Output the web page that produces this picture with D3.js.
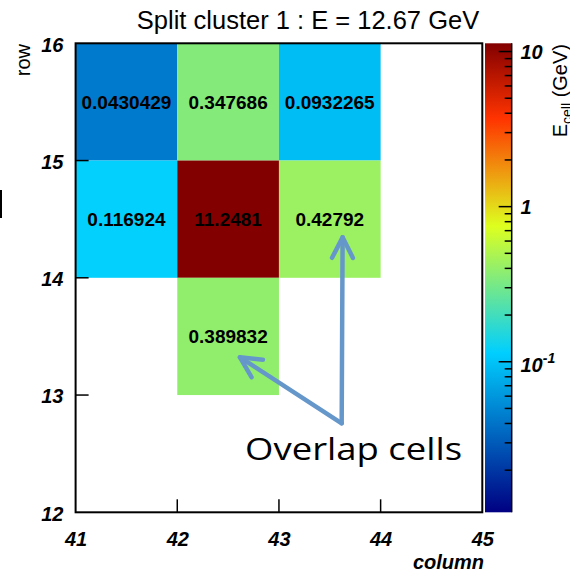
<!DOCTYPE html>
<html><head><meta charset="utf-8">
<script src="https://cdn.jsdelivr.net/npm/d3@7"></script>
<style>body{margin:0;background:#fff;} svg{display:block;}</style>
</head><body>
<svg id="c" width="570" height="572"></svg>
<script>
// ---- data ----
const cellCol = [41, 42, 43, 41, 42, 43, 42];
const cellRow = [15, 15, 15, 14, 14, 14, 13];
const cellE   = [0.0430429, 0.347686, 0.0932265, 0.116924, 11.2481, 0.42792, 0.389832];
const cellLabel = ["0.0430429","0.347686","0.0932265","0.116924","11.2481","0.42792","0.389832"];
const xTicks = [41, 42, 43, 44, 45];
const yTicks = [12, 13, 14, 15, 16];
const zMajor = [0.1, 1, 10];
const zMajorLabel = [["10","-1"],["1",""],["10",""]];
const zRange = [0.0107, 11.3];
const palStops = [0.00, 0.34, 0.61, 0.84, 1.00];
const palR = [0.00, 0.00, 0.87, 1.00, 0.51];
const palG = [0.00, 0.81, 1.00, 0.20, 0.00];
const palB = [0.51, 1.00, 0.12, 0.00, 0.00];
const titleText = "Split cluster 1 : E = 12.67 GeV";
// annotation (data coords)
const arrowBase = [43.617, 12.759];
const arrowTips = [[43.626, 14.345], [42.617, 13.322]];
const noteText = "Overlap cells";
const notePos = [42.667, 12.446];

// ---- layout ----
const svg = d3.select("#c");
const L = 75.6, R = 482.3, T = 43.3, B = 512.3;
const x = d3.scaleLinear().domain([41, 45]).range([L, R]);
const y = d3.scaleLinear().domain([12, 16]).range([B, T]);
const z = d3.scaleLog().domain(zRange).range([B, T]);
const tOf = v => (Math.log10(v) - Math.log10(zRange[0])) / (Math.log10(zRange[1]) - Math.log10(zRange[0]));
const toHex = (r,g,b) => d3.rgb(Math.round(r*255), Math.round(g*255), Math.round(b*255)).formatHex();
const palColors = palStops.map((s,i) => toHex(palR[i], palG[i], palB[i]));
const color = d3.scaleLinear().domain(palStops).range(palColors).interpolate(d3.interpolateRgb).clamp(true);

const cells = cellE.map((v,i) => ({c: cellCol[i], r: cellRow[i], v, lab: cellLabel[i]}));

// cells
svg.append("g").selectAll("rect").data(cells).join("rect")
  .attr("x", d => x(d.c)).attr("y", d => y(d.r + 1))
  .attr("width", d => x(d.c + 1) - x(d.c)).attr("height", d => y(d.r) - y(d.r + 1))
  .attr("fill", d => color(tOf(d.v)));
svg.append("g").selectAll("text").data(cells).join("text")
  .attr("x", d => x(d.c + 0.5)).attr("y", d => y(d.r + 0.5) + 7)
  .attr("text-anchor", "middle")
  .attr("font-family", "Liberation Sans, Arial, sans-serif")
  .attr("font-weight", "bold").attr("font-size", 19).attr("fill", "#000")
  .text(d => d.lab);

// frame
svg.append("rect").attr("x", L).attr("y", T).attr("width", R - L).attr("height", B - T)
  .attr("fill", "none").attr("stroke", "#000").attr("stroke-width", 2);

// ticks
const tickLen = 13;
svg.append("g").selectAll("line").data(xTicks.slice(1, -1)).join("line")
  .attr("x1", d => x(d)).attr("x2", d => x(d)).attr("y1", B).attr("y2", B - tickLen)
  .attr("stroke", "#000").attr("stroke-width", 1.5);
svg.append("g").selectAll("line").data(yTicks.slice(1, -1)).join("line")
  .attr("y1", d => y(d)).attr("y2", d => y(d)).attr("x1", L).attr("x2", L + tickLen)
  .attr("stroke", "#000").attr("stroke-width", 1.5);

const lblFont = "Liberation Sans, Arial, sans-serif";
svg.append("g").selectAll("text").data(xTicks).join("text")
  .attr("x", d => x(d) + 0.5).attr("y", 545.5).attr("text-anchor", "middle")
  .attr("font-family", lblFont).attr("font-weight", "bold").attr("font-style", "italic")
  .attr("font-size", 20).text(d => d);
svg.append("g").selectAll("text").data(yTicks).join("text")
  .attr("x", 63.5).attr("y", d => y(d) + 8.2).attr("text-anchor", "end")
  .attr("font-family", lblFont).attr("font-weight", "bold").attr("font-style", "italic")
  .attr("font-size", 20).text(d => d);

// axis titles
svg.append("text").attr("x", 484).attr("y", 569).attr("text-anchor", "end")
  .attr("font-family", lblFont).attr("font-weight", "bold").attr("font-style", "italic")
  .attr("font-size", 20).text("column");
svg.append("text").attr("transform", "translate(29.5,44) rotate(-90)").attr("text-anchor", "end")
  .attr("font-family", lblFont).attr("font-size", 20).text("row");

// title
svg.append("text").attr("x", 308).attr("y", 29).attr("text-anchor", "middle")
  .attr("font-family", lblFont).attr("font-size", 25.5).text(titleText);

// colour bar
const cbL = 485, cbR = 511.7;
const defs = svg.append("defs");
const grad = defs.append("linearGradient").attr("id", "pal")
  .attr("x1", 0).attr("y1", 1).attr("x2", 0).attr("y2", 0);
grad.selectAll("stop").data(palStops).join("stop")
  .attr("offset", d => d).attr("stop-color", (d,i) => palColors[i]);
svg.append("rect").attr("x", cbL).attr("y", T).attr("width", cbR - cbL).attr("height", B - T)
  .attr("fill", "url(#pal)");
svg.append("line").attr("x1", cbR).attr("x2", cbR).attr("y1", T).attr("y2", B)
  .attr("stroke", "#000").attr("stroke-width", 1.5);
const zMinor = [];
[0.01, 0.1, 1].forEach(dec => { for (let k = 2; k <= 9; k++) { const v = dec * k; if (v > zRange[0] && v < zRange[1]) zMinor.push(v); } });
svg.append("g").selectAll("line").data(zMinor).join("line")
  .attr("x1", cbR).attr("x2", cbR - 7).attr("y1", d => z(d)).attr("y2", d => z(d))
  .attr("stroke", "#000").attr("stroke-width", 1.5);
svg.append("g").selectAll("line").data(zMajor).join("line")
  .attr("x1", cbR).attr("x2", cbR - 13).attr("y1", d => z(d)).attr("y2", d => z(d))
  .attr("stroke", "#000").attr("stroke-width", 1.5);
const zl = svg.append("g").selectAll("text").data(zMajor).join("text")
  .attr("x", 520.5).attr("y", (d,i) => z(d) + (zMajorLabel[i][1] ? 10 : 7.8))
  .attr("font-family", lblFont).attr("font-weight", "bold").attr("font-style", "italic")
  .attr("font-size", 20);
zl.append("tspan").text((d,i) => zMajorLabel[i][0]);
zl.append("tspan").attr("font-size", 14).attr("dy", -9).text((d,i) => zMajorLabel[i][1]);

// z title
const zt = svg.append("text").attr("transform", "translate(567,44) rotate(-90)").attr("text-anchor", "end")
  .attr("font-family", lblFont).attr("font-size", 20);
zt.append("tspan").text("E");
zt.append("tspan").attr("font-size", 14).attr("dy", 5).text("cell");
zt.append("tspan").attr("dy", -5).text(" (GeV)");

// stray mark at left edge
svg.append("rect").attr("x", 0).attr("y", 190).attr("width", 2).attr("height", 28).attr("fill", "#000");

// annotation arrows
const aCol = "#6697cb";
const bx = x(arrowBase[0]), by = y(arrowBase[1]);
const ag = svg.append("g").attr("fill", "none").attr("stroke", aCol).attr("stroke-width", 4.5)
  .attr("stroke-linecap", "round").attr("stroke-linejoin", "round");
arrowTips.forEach(t => {
  const tx = x(t[0]), ty = y(t[1]);
  ag.append("line").attr("x1", bx).attr("y1", by).attr("x2", tx).attr("y2", ty);
  const ang = Math.atan2(by - ty, bx - tx);
  const hl = 23, ha = 27 * Math.PI / 180;
  const p1 = [tx + hl * Math.cos(ang + ha), ty + hl * Math.sin(ang + ha)];
  const p2 = [tx + hl * Math.cos(ang - ha), ty + hl * Math.sin(ang - ha)];
  ag.append("path").attr("d", `M${p1[0]},${p1[1]}L${tx},${ty}L${p2[0]},${p2[1]}`);
});
svg.append("text").attr("x", x(notePos[0])).attr("y", y(notePos[1]))
  .attr("font-family", "Open Sans, sans-serif").attr("font-size", 31)
  .attr("textLength", 217).attr("lengthAdjust", "spacingAndGlyphs")
  .attr("fill", "#000").text(noteText);
</script>
</body></html>
